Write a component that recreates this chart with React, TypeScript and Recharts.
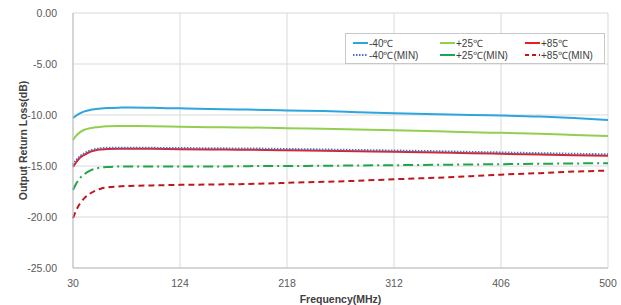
import React from 'react';
import { LineChart, Line, XAxis, YAxis, CartesianGrid, Legend, Label } from 'recharts';

const freqs = [30, 33, 36, 40, 45, 50, 55, 60, 70, 80, 100, 124, 150, 175, 200, 218, 250, 280, 312, 350, 380, 406, 440, 470, 500];
const m40 = [-10.3, -10.05, -9.85, -9.65, -9.5, -9.42, -9.36, -9.32, -9.28, -9.27, -9.3, -9.35, -9.4, -9.45, -9.5, -9.55, -9.62, -9.72, -9.82, -9.92, -10.0, -10.05, -10.15, -10.3, -10.5];
const p25 = [-12.45, -12.0, -11.7, -11.45, -11.3, -11.2, -11.15, -11.1, -11.08, -11.08, -11.1, -11.15, -11.2, -11.22, -11.25, -11.3, -11.35, -11.42, -11.5, -11.6, -11.7, -11.75, -11.85, -11.95, -12.05];
const p85 = [-15.1, -14.6, -14.2, -13.9, -13.6, -13.45, -13.38, -13.33, -13.3, -13.3, -13.32, -13.35, -13.38, -13.4, -13.42, -13.45, -13.5, -13.55, -13.6, -13.68, -13.75, -13.8, -13.88, -13.95, -14.0];
const m40min = [-14.9, -14.4, -14.05, -13.75, -13.48, -13.33, -13.26, -13.22, -13.2, -13.2, -13.22, -13.24, -13.26, -13.28, -13.3, -13.33, -13.38, -13.43, -13.48, -13.55, -13.62, -13.67, -13.74, -13.8, -13.85];
const p25min = [-17.35, -16.7, -16.2, -15.8, -15.45, -15.25, -15.15, -15.1, -15.05, -15.05, -15.05, -15.05, -15.05, -15.03, -15.0, -15.0, -14.98, -14.95, -14.92, -14.88, -14.85, -14.82, -14.78, -14.75, -14.72];
const p85min = [-20.1, -19.3, -18.7, -18.15, -17.7, -17.4, -17.2, -17.1, -17.0, -16.95, -16.9, -16.85, -16.82, -16.78, -16.72, -16.65, -16.55, -16.45, -16.3, -16.15, -16.0, -15.85, -15.7, -15.55, -15.45];

const xTicks = [30, 124, 218, 312, 406, 500];
const yTicks = [0, -5, -10, -15, -20, -25];

const seriesDefs = [
  { key: 'm40', name: '-40℃', values: m40, color: '#2BA6DE', dash: undefined as string | undefined },
  { key: 'p25', name: '+25℃', values: p25, color: '#92CF50', dash: undefined },
  { key: 'p85', name: '+85℃', values: p85, color: '#E0202A', dash: undefined },
  { key: 'm40min', name: '-40℃(MIN)', values: m40min, color: '#4A73C2', dash: '1.5 1.5' },
  { key: 'p25min', name: '+25℃(MIN)', values: p25min, color: '#1FA64A', dash: '10 4 2 4' },
  { key: 'p85min', name: '+85℃(MIN)', values: p85min, color: '#C0161E', dash: '6 4' },
];

const data = freqs.map((f, i) => {
  const row: Record<string, number> = { f };
  seriesDefs.forEach((s) => { row[s.key] = s.values[i]; });
  return row;
});

const FONT = '"Liberation Sans", Arial, sans-serif';

const LegendContent = () => (
  <div style={{ width: 258, height: 29, border: '1px solid #c8c8c8', background: '#fff', fontFamily: FONT, fontSize: 10, color: '#404040', position: 'relative' }}>
    {seriesDefs.map((s, i) => {
      const col = i % 3;
      const row = Math.floor(i / 3);
      const left = [7, 94, 179][col];
      const top = row === 0 ? 3 : 15;
      return (
        <div key={s.key} style={{ position: 'absolute', left, top, display: 'flex', alignItems: 'center', whiteSpace: 'nowrap', height: 12 }}>
          <svg width={15} height={6} style={{ marginRight: 1 }}>
            <line x1={0} y1={3} x2={15} y2={3} stroke={s.color} strokeWidth={2} strokeDasharray={s.dash ? (s.key === 'p25min' ? undefined : s.dash === '6 4' ? '4 3' : s.dash) : undefined} />
          </svg>
          <span>{s.name}</span>
        </div>
      );
    })}
  </div>
);

export default function App() {
  return (
    <div style={{ position: 'absolute', left: 0, top: 0, width: 621, height: 305, background: '#fff' }}>
      <LineChart width={621} height={305} data={data} margin={{ top: 13, right: 13, bottom: 0, left: 0 }}>
        <CartesianGrid stroke="#d9d9d9" strokeWidth={1} />
        <XAxis
          dataKey="f"
          type="number"
          domain={[30, 500]}
          ticks={xTicks}
          tickLine={false}
          axisLine={{ stroke: '#bfbfbf' }}
          height={37}
          tick={{ fontSize: 10.5, fill: '#595959', fontFamily: FONT }}
          tickMargin={6}
        >
          <Label
            content={(props: any) => {
              const vb = props.viewBox || {};
              return (
                <text x={vb.x + vb.width / 2} y={303} textAnchor="middle" fontSize={10.5} fontWeight="bold" fill="#404040" fontFamily={FONT}>
                  Frequency(MHz)
                </text>
              );
            }}
          />
        </XAxis>
        <YAxis
          type="number"
          domain={[-25, 0]}
          ticks={yTicks}
          width={73}
          tickLine={false}
          axisLine={{ stroke: '#bfbfbf' }}
          tickFormatter={(v: number) => v.toFixed(2)}
          tick={{ fontSize: 10.5, fill: '#595959', fontFamily: FONT }}
          tickMargin={10}
        >
          <Label
            content={(props: any) => {
              const vb = props.viewBox || {};
              const cy = vb.y + vb.height / 2;
              return (
                <text x={27} y={cy} transform={`rotate(-90 27 ${cy})`} textAnchor="middle" fontSize={10.5} fontWeight="bold" fill="#404040" fontFamily={FONT}>
                  Output Return Loss(dB)
                </text>
              );
            }}
          />
        </YAxis>
        <Legend
          layout="vertical"
          align="center"
          verticalAlign="middle"
          content={() => <LegendContent />}
          wrapperStyle={{ position: 'absolute', left: 345, top: 33, width: 260, height: 31 }}
        />
        {seriesDefs.map((s) => (
          <Line
            key={s.key}
            dataKey={s.key}
            name={s.name}
            type="monotone"
            stroke={s.color}
            strokeWidth={2}
            strokeDasharray={s.dash}
            dot={false}
            activeDot={false}
            isAnimationActive={false}
          />
        ))}
      </LineChart>
    </div>
  );
}
